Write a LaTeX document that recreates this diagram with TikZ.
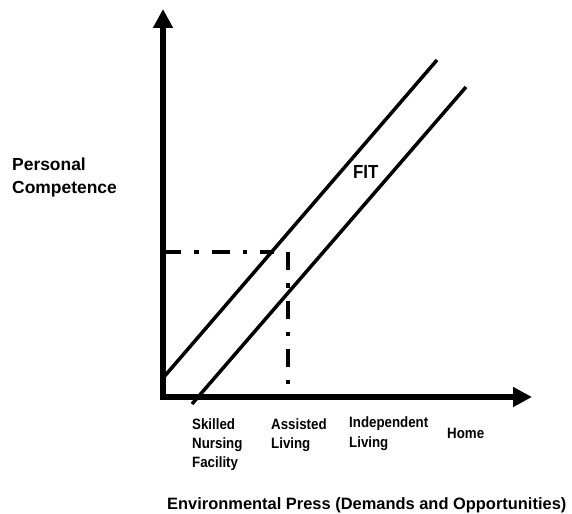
\documentclass[tikz,border=0pt]{standalone}
\usepackage{fontspec}
\setmainfont{Liberation Sans}
\newfontfamily\narrowfont{Liberation Sans}[FakeStretch=0.89]
\usetikzlibrary{arrows.meta}

\tikzset{
  axis/.style={line width=6bp, line cap=rect, -{Triangle[length=19bp,width=19bp]}},
  fitline/.style={line width=3.5bp},
  guide/.style={line width=4.5bp, dash pattern=on 18bp off 13bp on 4.5bp off 13bp},
  biglabel/.style={inner sep=0pt, anchor=base west, align=left,
    font=\bfseries\fontsize{17.5}{23.3}\selectfont},
  placelabel/.style={inner sep=0pt, anchor=base west, align=left,
    font=\narrowfont\bfseries\fontsize{15}{19.2}\selectfont}
}

\begin{document}
\begin{tikzpicture}[x=1bp,y=-1bp]
\useasboundingbox (0,0) rectangle (572,514);

% axes
\coordinate (origin) at (163,397);
\coordinate (ytop) at (163,9);
\coordinate (xend) at (532,397);
\draw[axis] (origin) -- (ytop);
\draw[axis] (origin) -- (xend);

% the two parallel lines of the fit band
\coordinate (upper0) at (163,378);
\coordinate (upper1) at (437,60);
\coordinate (lower0) at (192,404);
\coordinate (lower1) at (466,87);
\draw[fitline] (upper0) -- (upper1);
\draw[fitline] (lower0) -- (lower1);

% dash-dot guides
\coordinate (level0) at (163,252);
\coordinate (level1) at (274,252);
\coordinate (drop0) at (288,252);
\coordinate (drop1) at (288,384);
\draw[guide] (level0) -- (level1);
\draw[guide] (drop0) -- (drop1);

% base of a multi-line label is its last line
\node[biglabel] (competence) at (12,193.3) {Personal\\Competence};
\node[placelabel, font=\narrowfont\bfseries\fontsize{19}{22}\selectfont] (fit) at (353,179) {FIT};

\node[placelabel] (skilled) at (192,467.5) {Skilled\\Nursing\\Facility};
\node[placelabel] (assisted) at (271,448.3) {Assisted\\Living};
\node[placelabel] (independent) at (349,447) {Independent\\Living};
\node[placelabel] (home) at (447,438.3) {Home};

\node[inner sep=0pt, anchor=base west, font=\bfseries\fontsize{16.5}{20}\selectfont]
  (press) at (167,509) {Environmental Press (Demands and Opportunities)};
\end{tikzpicture}
\end{document}
